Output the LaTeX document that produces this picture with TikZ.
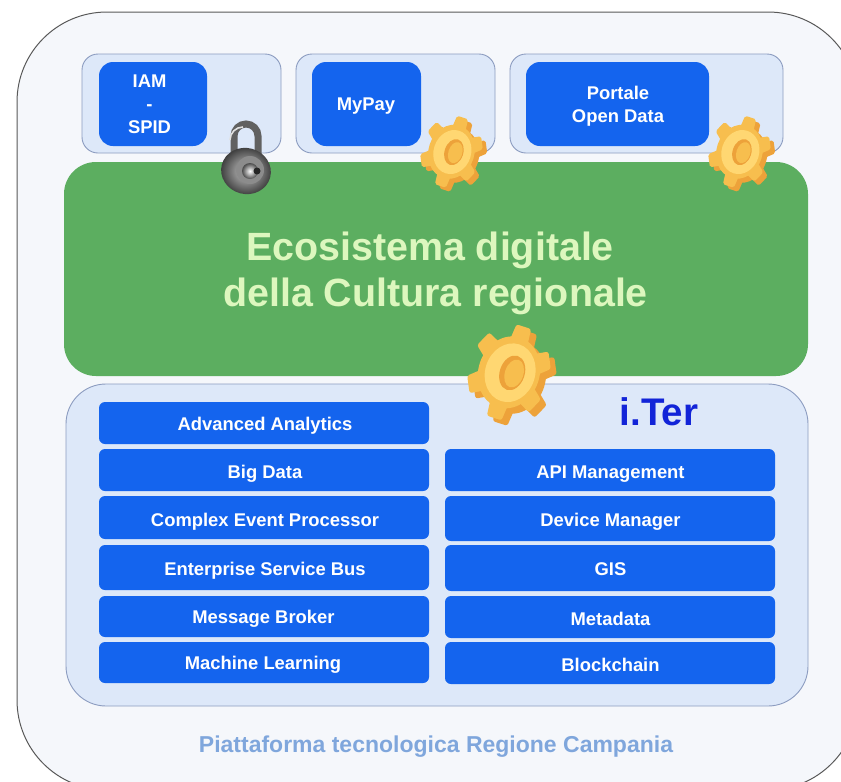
\documentclass[tikz,border=0pt]{standalone}
\usepackage{fontspec}
\setmainfont{Liberation Sans}
\usetikzlibrary{shapes.geometric}
\definecolor{bluebar}{HTML}{1464EE}
\definecolor{panel}{HTML}{DDE8F9}
\definecolor{panelline}{HTML}{8C9CC0}
\definecolor{outerfill}{HTML}{F5F7FB}
\definecolor{greenbox}{HTML}{5CAE60}
\definecolor{greentext}{HTML}{DDF7BE}
\definecolor{footer}{HTML}{7FA6DC}
\definecolor{itertext}{HTML}{1224D8}
\definecolor{gearmid}{HTML}{F7BE4E}
\definecolor{geardark}{HTML}{EDA23A}
\definecolor{gearlight}{HTML}{FFD772}
\tikzset{
  panelbox/.style={draw=panelline,line width=0.9pt,fill=panel,rounded corners=#1},
  bluebox/.style={fill=bluebar,rounded corners=#1},
  barlabel/.style={text=white,font=\bfseries\fontsize{18.4}{23}\selectfont,inner sep=0pt,align=center},
  barbase/.style={barlabel,anchor=base},
}
\newcommand{\geartooth}[2]{% radius, colour
  \foreach \a in {0,60,...,300}{
    \fill[#2,rotate=\a,rounded corners=.05*#1] (-.24*#1,.55*#1) -- (-.19*#1,#1) -- (.19*#1,#1) -- (.24*#1,.55*#1) -- cycle;
  }
  \fill[#2] (0,0) circle[radius=.76*#1];
}
\newcommand{\gearicon}[3]{% x,y,r
  \begin{scope}[shift={(#1,#2)},rotate=-18,xscale=.84]
    \begin{scope}[shift={(.12*#3,.05*#3)}]\geartooth{#3}{geardark}\end{scope}
    \begin{scope}[shift={(-.06*#3,-.02*#3)}]\geartooth{#3}{gearmid}\end{scope}
    \fill[gearlight,shift={(-.03*#3,-.02*#3)}] (0,0) circle[radius=.62*#3];
    \fill[geardark] (.02*#3,-.03*#3) ellipse[x radius=.31*#3,y radius=.37*#3];
    \fill[gearmid] (.07*#3,-.03*#3) ellipse[x radius=.23*#3,y radius=.30*#3];
  \end{scope}
}
\begin{document}
\begin{tikzpicture}[x=1pt,y=-1pt]
\useasboundingbox (0,0) rectangle (841,782);
\clip (0,0) rectangle (841,782);
\path[draw=black!65,line width=1pt,fill=outerfill,rounded corners=90] (17,12) rectangle (858,790);
% top panels
\path[panelbox=16] (82,54) rectangle (281,153);
\path[panelbox=16] (296,54) rectangle (495,153);
\path[panelbox=16] (510,54) rectangle (783,153);
\node[bluebox=14,minimum width=108pt,minimum height=84pt,inner sep=0pt] (iam) at (153,104) {};
\node[bluebox=14,minimum width=109pt,minimum height=84pt,inner sep=0pt] (mypay) at (366.5,104) {};
\node[bluebox=14,minimum width=183pt,minimum height=84pt,inner sep=0pt] (portale) at (617.5,104) {};
\node[barlabel] (iamt) at (149.5,104.5) {IAM\\-\\SPID};
\node[barbase] (mypayt) at (366,110) {MyPay};
\node[barlabel] (portalet) at (618,106) {Portale\\Open Data};
% green
\path[fill=greenbox,rounded corners=32] (64,162) rectangle (808,376);
\node[text=greentext,font=\bfseries\fontsize{39.4}{46}\selectfont,align=center,inner sep=0pt] (eco) at (435.5,273) {Ecosistema digitale\hspace*{11pt}\\della Cultura regionale};
% iTer panel
\path[panelbox=40] (66,384) rectangle (808,706);
\node[text=itertext,font=\bfseries\fontsize{38.5}{42}\selectfont,inner sep=0pt] (iter) at (659,412) {i.Ter};
% bars left
\foreach \n/\t/\b/\bl/\cx/\s in {a/402/444/430.5/265/Advanced Analytics,b/449/491/478/265/Big Data,c/496/539/526/265/Complex Event Processor,d/545/590/575.5/265/Enterprise Service Bus,e/596/637/623.5/263.5/Message Broker,f/642/683/669.5/263/Machine Learning}{
  \path[bluebox=6] (99,\t) rectangle (429,\b);
  \node[barbase] (l\n) at (\cx,\bl) {\s};
}
\foreach \n/\t/\b/\bl/\s in {a/449/491/478/API Management,b/496/541/526/Device Manager,c/545/591/575.5/GIS,d/596/638/625/Metadata,e/642/684/671/Blockchain}{
  \path[bluebox=6] (445,\t) rectangle (775,\b);
  \node[barbase] (r\n) at (610.5,\bl) {\s};
}
\node[text=footer,font=\bfseries\fontsize{23}{26}\selectfont,inner sep=0pt] (foot) at (436,747) {Piattaforma tecnologica Regione Campania};
% gears
\gearicon{453}{153}{36}
\gearicon{741}{153}{36}
\gearicon{511}{374}{48}
% lock
\draw[black!62,line width=7pt] (234,165) -- (234,136) arc[start angle=180,end angle=360,radius=12] -- (258,165);
\draw[black!12,line width=1.6pt] (230,140) arc[start angle=180,end angle=270,radius=13];
\shade[inner color=black!20,outer color=black!80,rotate around={-15:(246,171)}] (246,171) ellipse[x radius=25,y radius=23];
\fill[black!45] (250,170) circle[radius=14];
\shade[inner color=white,outer color=black!70] (250,171) circle[radius=8];
\fill[black!85] (257,171) circle[radius=3.5];
\end{tikzpicture}
\end{document}
